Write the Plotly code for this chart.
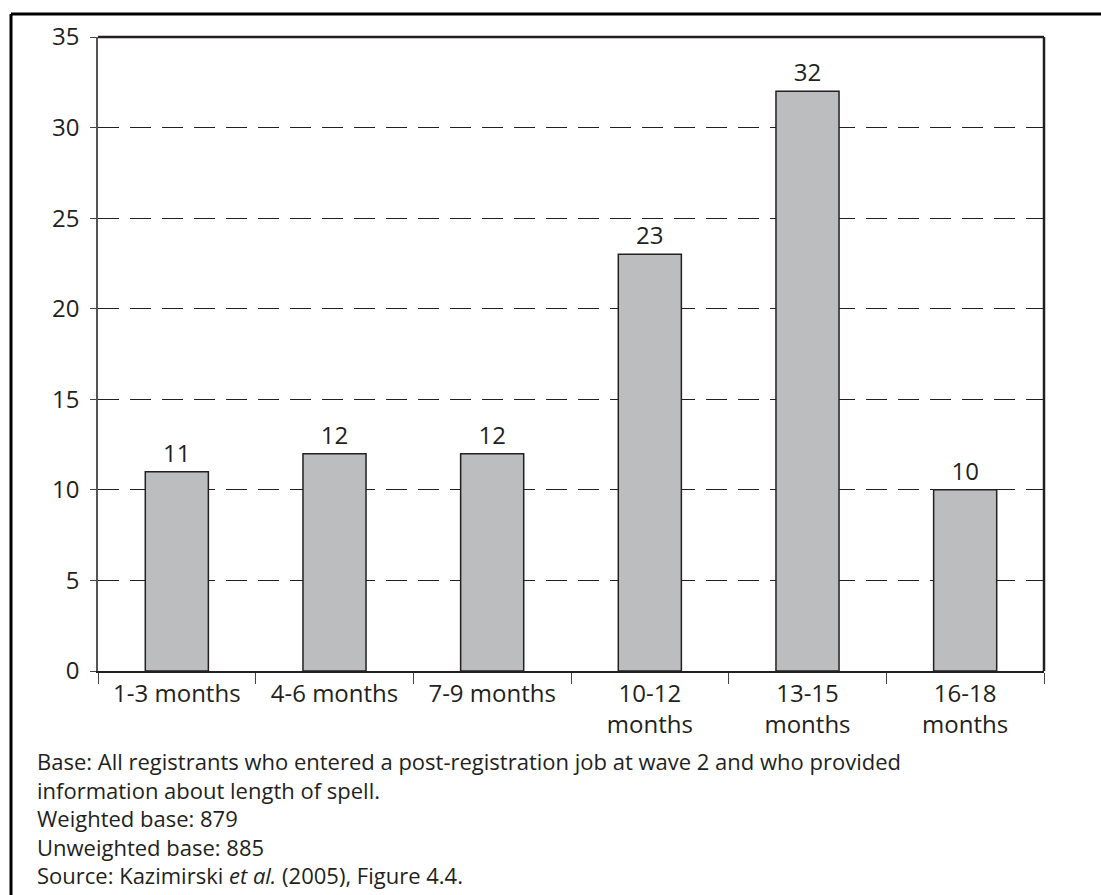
import plotly.graph_objects as go

categories = ["1-3 months", "4-6 months", "7-9 months", "10-12<br>months", "13-15<br>months", "16-18<br>months"]
values = [11, 12, 12, 23, 32, 10]
y_ticks = [0, 5, 10, 15, 20, 25, 30, 35]
footnotes = [
    "Base: All registrants who entered a post-registration job at wave 2 and who provided",
    "information about length of spell.",
    "Weighted base: 879",
    "Unweighted base: 885",
    "Source: Kazimirski <i>et al.</i> (2005), Figure 4.4.",
]

W, H = 1101, 895
ML, MR, MT, MB = 98, 57, 37, 224
PW = W - ML - MR
PH = H - MT - MB

INK = "#231f20"
FONT = "Open Sans"

fig = go.Figure()
fig.add_trace(go.Bar(
    x=categories, y=values, width=0.4,
    marker=dict(color="#bcbdbf", line=dict(color=INK, width=1.5)),
    text=[str(v) for v in values], textposition="outside",
    textfont=dict(size=24, color=INK, family=FONT),
    cliponaxis=False, hoverinfo="skip",
))

fig.update_layout(
    width=W, height=H,
    margin=dict(l=ML, r=MR, t=MT, b=MB, pad=0),
    paper_bgcolor="white", plot_bgcolor="white",
    showlegend=False,
    font=dict(family=FONT, color=INK, size=24),
    xaxis=dict(
        showline=True, linecolor=INK, linewidth=1.5,
        ticks="outside", tickson="boundaries", ticklen=11, tickwidth=1.2, tickcolor="#444",
        showgrid=False, tickfont=dict(size=24, color=INK, family=FONT),
        range=[-0.5, 5.5],
    ),
    yaxis=dict(
        range=[0, 35], tickvals=y_ticks, showline=True, linecolor="#555", linewidth=1.5,
        ticks="outside", ticklen=6, tickwidth=1.2, tickcolor="#444",
        ticklabelstandoff=6,
        showgrid=True, gridcolor=INK, gridwidth=1.3, griddash="21px,11px",
        zeroline=False, tickfont=dict(size=24, color=INK, family=FONT),
    ),
)

# top and right frame of plot area
fig.add_shape(type="line", xref="x domain", yref="y domain", x0=0, x1=1, y0=1, y1=1,
              line=dict(color=INK, width=2.5), layer="above")
fig.add_shape(type="line", xref="x domain", yref="y domain", x0=1, x1=1, y0=0, y1=1,
              line=dict(color=INK, width=2.5), layer="above")

def px_x(p):
    return (p - ML) / PW

def px_y(p):
    return 1 - (p - MT) / PH

# outer frame (top and left)
fig.add_shape(type="line", xref="paper", yref="paper", x0=px_x(11), x1=px_x(W + 5), y0=px_y(14), y1=px_y(14),
              line=dict(color="black", width=3))
fig.add_shape(type="line", xref="paper", yref="paper", x0=px_x(11), x1=px_x(11), y0=px_y(14), y1=px_y(H + 5),
              line=dict(color="black", width=3))

fig.add_annotation(
    text="<br>".join(footnotes), xref="paper", yref="paper", x=px_x(35), y=px_y(744),
    xanchor="left", yanchor="top", align="left", showarrow=False,
    font=dict(size=22, color=INK, family=FONT),
)

fig.write_html("out.html", config={"displayModeBar": False},
               post_script="document.body.style.margin='0px';")
